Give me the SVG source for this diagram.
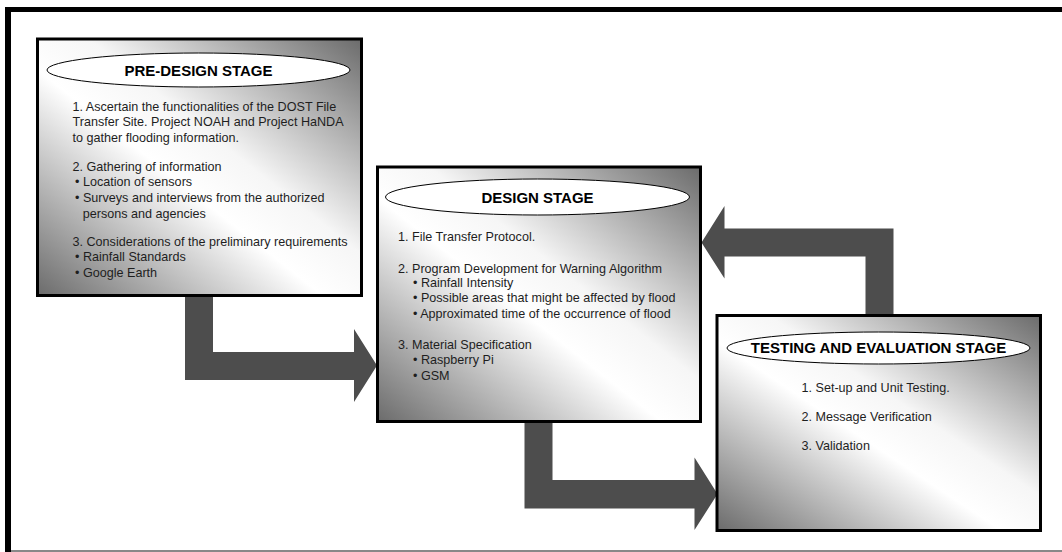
<svg xmlns="http://www.w3.org/2000/svg" width="1062" height="552" viewBox="0 0 1062 552">
<defs>
<linearGradient id="boxGrad" x1="1" y1="0" x2="0" y2="1">
<stop offset="0" stop-color="#6b6b6b"/>
<stop offset="0.42" stop-color="#f6f6f6"/>
<stop offset="0.56" stop-color="#ffffff"/>
<stop offset="1" stop-color="#6b6b6b"/>
</linearGradient>
</defs>
<style>
.box{fill:url(#boxGrad);stroke:#000;stroke-width:3}
.oval{fill:#fff;stroke:#000;stroke-width:1}
.head{font-family:"Liberation Sans",Arial,sans-serif;font-size:15px;font-weight:bold;fill:#000;text-anchor:middle}
.body{font-family:"Liberation Sans",Arial,sans-serif;font-size:12.6px;fill:#1e1e1e}
.arrow{fill:#4d4d4d}
</style>
<rect width="1062" height="552" fill="#fff"/>
<g id="frame">
<rect x="5" y="7" width="1057" height="5" fill="#000"/>
<rect x="5" y="7" width="6" height="545" fill="#000"/>
<rect x="11" y="550" width="1051" height="2" fill="#888"/>
</g>
<g id="connectors">
<polygon class="arrow" points="185,296 213,296 213,352 354,352 354,329 377,365.5 354,402 354,380 185,380"/>
<polygon class="arrow" points="524.5,423 552.5,423 552.5,480 694.5,480 694.5,457.5 717.5,494 694.5,530 694.5,508.5 524.5,508.5"/>
<polygon class="arrow" points="893.5,314 865.5,314 865.5,256.5 724.5,256.5 724.5,278.5 701.5,242.5 724.5,206 724.5,228.5 893.5,228.5"/>
</g>
<g id="pre-design">
<rect class="box" x="37.5" y="39" width="324" height="256.5"/>
<ellipse class="oval" cx="198.5" cy="70" rx="151.5" ry="17"/>
<text class="head" x="198.5" y="75.5">PRE-DESIGN STAGE</text>
<text class="body" x="72.5" y="110.5">1. Ascertain the functionalities of the DOST File</text>
<text class="body" x="72.5" y="126.3">Transfer Site. Project NOAH and Project HaNDA</text>
<text class="body" x="72.5" y="142">to gather flooding information.</text>
<text class="body" x="72.5" y="170.5">2. Gathering of information</text>
<text class="body" x="75" y="186.3">• Location of sensors</text>
<text class="body" x="75" y="202">• Surveys and interviews from the authorized</text>
<text class="body" x="82.7" y="217.8">persons and agencies</text>
<text class="body" x="72.5" y="245.5">3. Considerations of the preliminary requirements</text>
<text class="body" x="75" y="261.3">• Rainfall Standards</text>
<text class="body" x="75" y="277">• Google Earth</text>
</g>
<g id="design">
<rect class="box" x="377.5" y="167" width="323" height="254.5"/>
<ellipse class="oval" cx="537.5" cy="197" rx="152" ry="18"/>
<text class="head" x="537.5" y="203">DESIGN STAGE</text>
<text class="body" x="398" y="241">1. File Transfer Protocol.</text>
<text class="body" x="398" y="272.5">2. Program Development for Warning Algorithm</text>
<text class="body" x="413" y="287.3">• Rainfall Intensity</text>
<text class="body" x="413" y="302.3">• Possible areas that might be affected by flood</text>
<text class="body" x="413" y="317.5">• Approximated time of the occurrence of flood</text>
<text class="body" x="398" y="348.5">3. Material Specification</text>
<text class="body" x="413" y="364">• Raspberry Pi</text>
<text class="body" x="413" y="379.5">• GSM</text>
</g>
<g id="testing">
<rect class="box" x="717" y="315.5" width="323.5" height="215"/>
<ellipse class="oval" cx="878.5" cy="348" rx="151.5" ry="16"/>
<text class="head" x="878.5" y="353">TESTING AND EVALUATION STAGE</text>
<text class="body" x="801.5" y="391.5">1. Set-up and Unit Testing.</text>
<text class="body" x="801.5" y="421">2. Message Verification</text>
<text class="body" x="801.5" y="450">3. Validation</text>
</g>
</svg>
